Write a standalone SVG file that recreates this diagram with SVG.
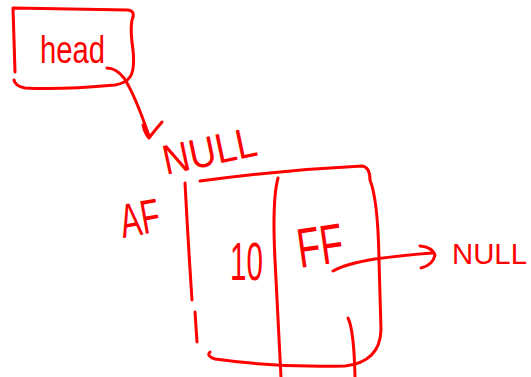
<svg xmlns="http://www.w3.org/2000/svg" width="531" height="377" viewBox="0 0 531 377">
<style>
.s{fill:none;stroke:#ff0000;stroke-width:3;stroke-linecap:round;stroke-linejoin:round}
.t{fill:#ff0000;font-family:"Liberation Sans",Arial,sans-serif}
</style>
<rect width="531" height="377" fill="#ffffff"/>
<g id="head">
<path class="s" d="M15,72 L13,8 Q70,9 128,10 Q136,11 132,20 Q130,30 133,50 Q135,70 130,77 Q126,83 115,85 Q60,90 25,88 Q15,86 14,80"/>
<text class="t" x="40" y="63" font-size="38" textLength="65" lengthAdjust="spacingAndGlyphs">head</text>
</g>
<g id="null-top">
<text class="t" x="166" y="175" font-size="42" textLength="95" lengthAdjust="spacingAndGlyphs" transform="rotate(-12 166 175)">NULL</text>
</g>
<g id="node">
<path class="s" d="M200,181 Q280,170 362,166 Q370,167 370,180 Q378,200 379,260 L381,330 Q380,362 345,366 Q280,368 215,359 Q206,356 210,352"/>
<path class="s" d="M185,183 Q188,240 192,300 M195,312 L197,342"/>
<path class="s" d="M278,178 Q272,200 275,260 L281,377"/>
<path class="s" d="M348,318 Q354,330 355,377"/>
<text class="t" x="123" y="238" font-size="48" textLength="40" lengthAdjust="spacingAndGlyphs" transform="rotate(-10 123 238)">AF</text>
<text class="t" x="230" y="280" font-size="54" textLength="33" lengthAdjust="spacingAndGlyphs">10</text>
<text class="t" x="300" y="268" font-size="56" textLength="46" lengthAdjust="spacingAndGlyphs" transform="rotate(-8 300 268)">FF</text>
</g>
<g id="null-right">
<text class="t" x="452" y="264" font-size="29" textLength="75" lengthAdjust="spacingAndGlyphs">NULL</text>
</g>
<g id="connectors">
<path class="s" d="M107,68 Q116,68 124,78 Q135,95 149,136"/>
<path class="s" d="M143,125 Q145,134 149,138 Q155,130 162,122"/>
<path class="s" d="M333,271 Q345,264 375,259 Q405,255 432,253"/>
<path class="s" d="M420,246 Q432,247 435,255 Q433,265 421,268"/>
</g>
</svg>
